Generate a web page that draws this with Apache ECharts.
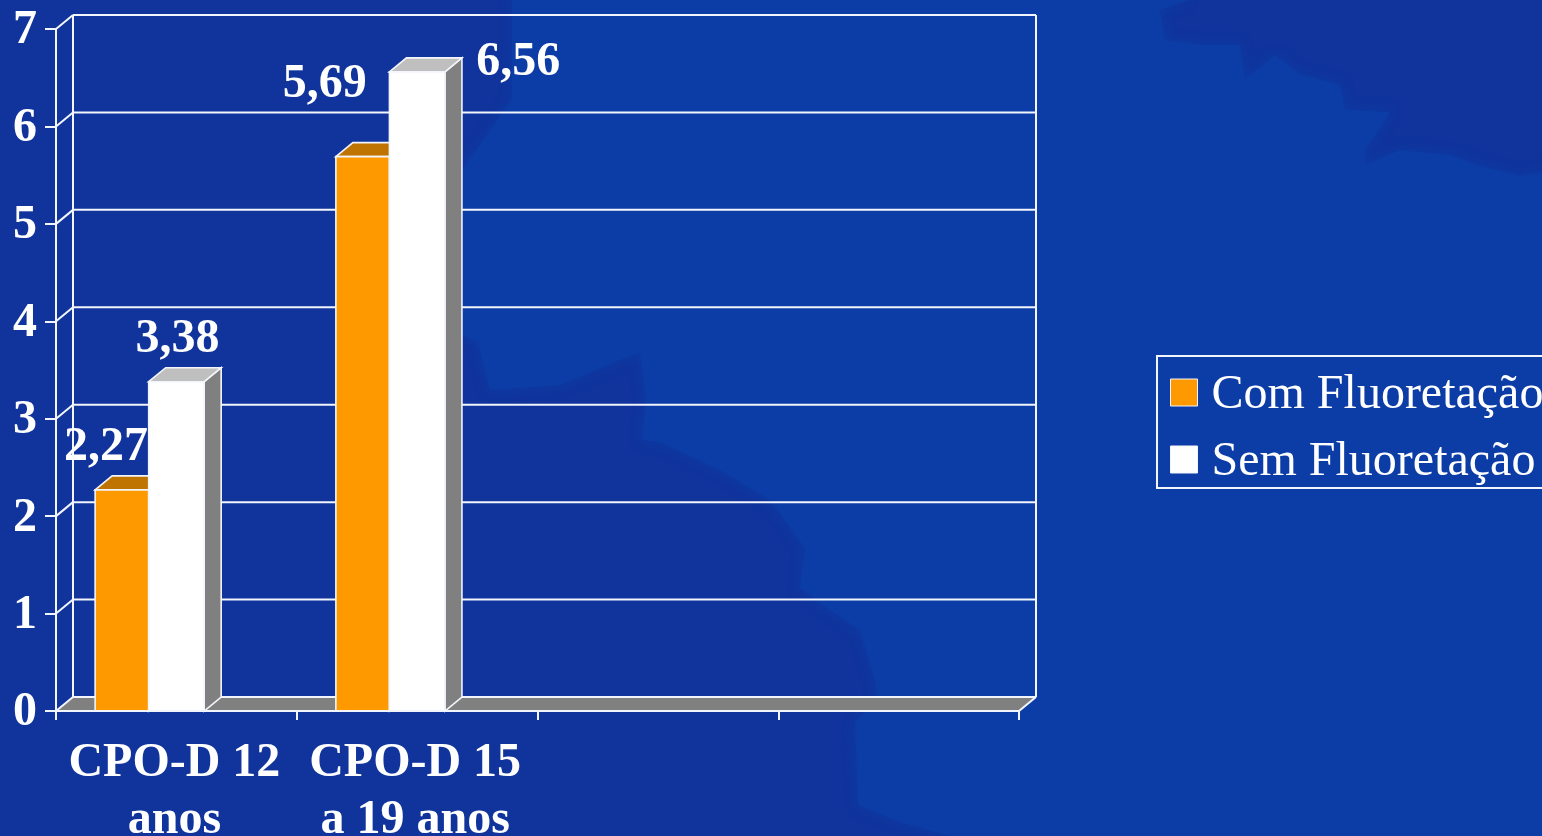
<!DOCTYPE html>
<html><head><meta charset="utf-8">
<style>html,body{margin:0;padding:0;background:#10349c;overflow:hidden}#c{width:1542px;height:836px}</style>
<script src="https://cdn.jsdelivr.net/npm/echarts@6/dist/echarts.min.js"></script>
</head><body><div id="c"></div>
<script>
// --- data ---
const categories = ['CPO-D 12\nanos', 'CPO-D 15\na 19 anos', '', ''];
const seriesNames = ['Com Fluoretação', 'Sem Fluoretação'];
const comFluoretacao = [2.27, 5.69];
const semFluoretacao = [3.38, 6.56];
const yTicks = [0, 1, 2, 3, 4, 5, 6, 7];

// --- styling ---
const SERIF = '"Liberation Serif","Times New Roman",serif';
const DX = 17, DY = -14;
const LINE = '#f2f5fb';
const LW = 2;
const comLabelOffsets = [[-16, -42], [-38, -72]];
const semLabelOffsets = [[1, -42], [101, -9]];
const landOutline = [[512,0],[512,100],[462,170],[462,335],[478,342],[490,390],[560,385],[615,362],[640,352],[646,400],[642,440],
 [660,442],[720,470],[770,500],[805,548],[800,588],[830,610],[860,630],[875,680],[878,700],[855,722],[858,805],[900,822],[950,836],
 [1542,836],[1542,172],[1520,176],[1480,166],[1450,155],[1400,150],[1365,165],[1365,150],[1390,112],[1345,110],[1340,85],[1300,75],[1275,55],
 [1245,80],[1240,45],[1200,45],[1165,40],[1160,10],[1190,0]];

function fmt(v){ return v.toFixed(2).replace('.', ','); }

function wallItem(params, api){
  const cs = params.coordSys;
  const v = api.value(1);
  const y = api.coord([0, v])[1];
  const l = cs.x, r = cs.x + cs.width, b = cs.y + cs.height, t = cs.y;
  const ls = {stroke: LINE, lineWidth: LW, fill: null};
  const kids = [
    {type:'line', shape:{x1:l,y1:y,x2:l+DX,y2:y+DY}, style:ls},
    {type:'line', shape:{x1:l+DX,y1:y+DY,x2:r+DX,y2:y+DY}, style:ls}
  ];
  if (v === 0) {
    kids.unshift({type:'polygon', shape:{points:[[l,b],[l+DX,b+DY],[r+DX,b+DY],[r,b]]}, style:{fill:'#808080'}});
    kids.push({type:'line', shape:{x1:l+DX,y1:t+DY,x2:l+DX,y2:b+DY}, style:ls});
    kids.push({type:'line', shape:{x1:r+DX,y1:t+DY,x2:r+DX,y2:b+DY}, style:ls});
    kids.push({type:'line', shape:{x1:r,y1:b,x2:r+DX,y2:b+DY}, style:ls});
  }
  return {type:'group', children:kids};
}

function barItem(seriesIndex, colors, offsets){
  return function(params, api){
    const idx = api.value(0), val = api.value(1);
    const c = api.coord([idx, val]);
    const base = api.coord([idx, 0])[1];
    const band = api.size([1, 0])[0];
    const x0 = c[0] - band * 0.3375 + seriesIndex * band * 0.2225;
    const bw = band * (seriesIndex ? 0.2305 : 0.2225);
    const x1 = x0 + bw, top = c[1];
    const edge = {stroke: LINE, lineWidth: 1.6};
    const off = offsets[params.dataIndex];
    return {type:'group', children:[
      {type:'polygon', shape:{points:[[x1,top],[x1+DX,top+DY],[x1+DX,base+DY],[x1,base]]}, style:Object.assign({fill:colors[2]}, edge)},
      {type:'polygon', shape:{points:[[x0,top],[x0+DX,top+DY],[x1+DX,top+DY],[x1,top]]}, style:Object.assign({fill:colors[1]}, edge)},
      {type:'rect', shape:{x:x0,y:top,width:bw,height:base-top}, style:Object.assign({fill:colors[0]}, edge)},
      {type:'text', z2:100, style:{text:fmt(val), x:(x0+x1)/2+off[0], y:top+off[1], align:'center', verticalAlign:'middle',
        fill:'#fff', font:'bold 48px '+SERIF}}
    ]};
  };
}

const chart = echarts.init(document.getElementById('c'), null, {renderer:'canvas'});
chart.setOption({
  animation:false,
  backgroundColor:'#10349c',
  graphic:[{type:'polygon', silent:true, z:-10, shape:{points:landOutline},
    style:{fill:'#0c3da6', shadowBlur:12, shadowColor:'#0c3da6'}}],
  grid:{left:56, top:29, width:963, height:682, show:false, containLabel:false, outerBoundsMode:'none'},
  legend:{
    left:1157, top:356, orient:'vertical', padding:[10,40,2,13],
    itemWidth:27, itemHeight:27, itemGap:14, icon:'rect',
    backgroundColor:'#0c3da6', borderColor:LINE, borderWidth:LW,
    formatter:'{t|{name}}',
    textStyle:{color:'#fff', fontFamily:SERIF, fontSize:48, lineHeight:49, padding:[0,0,0,9],
      rich:{t:{color:'#fff', fontFamily:SERIF, fontSize:48, lineHeight:49, padding:[5,0,0,0]}}},
    data:[
      {name:seriesNames[0], icon:'rect', itemStyle:{color:'#FF9900', borderColor:LINE, borderWidth:1}},
      {name:seriesNames[1], icon:'rect', itemStyle:{color:'#ffffff', borderColor:LINE, borderWidth:1}}
    ]
  },
  xAxis:{
    type:'category', data:categories, boundaryGap:true,
    axisLine:{show:true, lineStyle:{color:LINE, width:LW}},
    axisTick:{show:true, alignWithLabel:false, length:9, lineStyle:{color:LINE, width:LW}},
    axisLabel:{color:'#fff', fontFamily:SERIF, fontWeight:'bold', fontSize:48, lineHeight:57, margin:24, interval:0, padding:[0,4,0,0]},
    splitLine:{show:false}, z:5
  },
  yAxis:{
    type:'value', min:0, max:7, interval:1,
    axisLine:{show:true, lineStyle:{color:LINE, width:LW}},
    axisTick:{show:true, length:11, lineStyle:{color:LINE, width:LW}},
    axisLabel:{color:'#fff', fontFamily:SERIF, fontWeight:'bold', fontSize:48, margin:19, formatter:'{t|{value}}',
      rich:{t:{color:'#fff', fontFamily:SERIF, fontWeight:'bold', fontSize:48, padding:[4,0,0,0]}}},
    splitLine:{show:false}, z:5
  },
  series:[
    {type:'custom', name:'walls', coordinateSystem:'cartesian2d', z:1, silent:true,
     data:yTicks.map(v=>[0,v]), encode:{x:0,y:1}, renderItem:wallItem},
    {type:'custom', name:seriesNames[0], coordinateSystem:'cartesian2d', z:2, silent:true,
     itemStyle:{color:'#FF9900'}, data:comFluoretacao.map((v,i)=>[i,v]), encode:{x:0,y:1},
     renderItem:barItem(0,['#FF9900','#BF7300','#804D00'],comLabelOffsets)},
    {type:'custom', name:seriesNames[1], coordinateSystem:'cartesian2d', z:3, silent:true,
     itemStyle:{color:'#ffffff'}, data:semFluoretacao.map((v,i)=>[i,v]), encode:{x:0,y:1},
     renderItem:barItem(1,['#ffffff','#BFBFBF','#808080'],semLabelOffsets)}
  ]
});
</script></body></html>
